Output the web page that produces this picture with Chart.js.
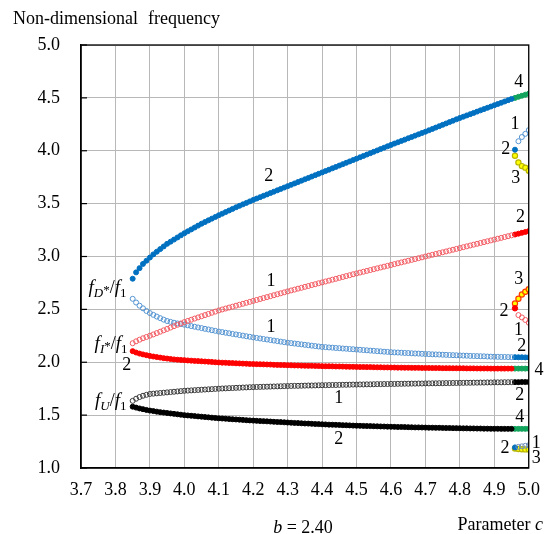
<!DOCTYPE html>
<html><head><meta charset="utf-8">
<script src="https://cdn.jsdelivr.net/npm/chart.js@4/dist/chart.umd.min.js"></script>
<style>html,body{margin:0;padding:0;background:#fff;}canvas{display:block;}</style>
</head><body>
<canvas id="chart" width="551" height="534" style="width:551px;height:534px"></canvas>
<script>
// ---------- data ----------
const xTicks = [3.7,3.8,3.9,4.0,4.1,4.2,4.3,4.4,4.5,4.6,4.7,4.8,4.9,5.0];
const yTicks = [1.0,1.5,2.0,2.5,3.0,3.5,4.0,4.5,5.0];

const cMain = [3.85,3.86,3.87,3.88,3.89,
 3.90,3.91,3.92,3.93,3.94,3.95,3.96,3.97,3.98,3.99,
 4.00,4.01,4.02,4.03,4.04,4.05,4.06,4.07,4.08,4.09,
 4.10,4.11,4.12,4.13,4.14,4.15,4.16,4.17,4.18,4.19,
 4.20,4.21,4.22,4.23,4.24,4.25,4.26,4.27,4.28,4.29,
 4.30,4.31,4.32,4.33,4.34,4.35,4.36,4.37,4.38,4.39,
 4.40,4.41,4.42,4.43,4.44,4.45,4.46,4.47,4.48,4.49,
 4.50,4.51,4.52,4.53,4.54,4.55,4.56,4.57,4.58,4.59,
 4.60,4.61,4.62,4.63,4.64,4.65,4.66,4.67,4.68,4.69,
 4.70,4.71,4.72,4.73,4.74,4.75,4.76,4.77,4.78,4.79,
 4.80,4.81,4.82,4.83,4.84,4.85,4.86,4.87,4.88,4.89,
 4.90,4.91,4.92,4.93,4.94,4.95];
const cEnd = [4.96,4.97,4.98,4.99,5.00];

// f_D*/f_1, mode 2 (filled blue)
const fD2 = [2.79,2.85,2.89,2.93,2.96,
 2.99,3.02,3.045,3.07,3.095,3.12,3.14,3.16,3.18,3.20,
 3.22,3.238,3.256,3.274,3.292,3.31,3.326,3.342,3.358,3.374,
 3.39,3.405,3.42,3.435,3.45,3.465,3.479,3.493,3.507,3.521,
 3.535,3.548,3.561,3.574,3.587,3.60,3.613,3.626,3.639,3.652,
 3.665,3.678,3.691,3.704,3.717,3.73,3.743,3.756,3.769,3.782,
 3.795,3.808,3.821,3.834,3.847,3.86,3.873,3.886,3.899,3.912,
 3.925,3.938,3.951,3.964,3.977,3.99,4.003,4.016,4.029,4.042,
 4.055,4.068,4.08,4.093,4.105,4.118,4.13,4.143,4.155,4.168,
 4.18,4.193,4.206,4.219,4.232,4.245,4.258,4.271,4.284,4.297,
 4.31,4.322,4.334,4.346,4.358,4.37,4.382,4.394,4.406,4.418,
 4.43,4.442,4.454,4.466,4.478,4.49];
const fD2End = [4.50,4.51,4.52,4.53,4.54];          // mode 4 (green)

// f_D*/f_1, mode 1 (open blue)
const fD1 = [2.60,2.565,2.535,2.51,2.485,
 2.465,2.448,2.432,2.417,2.403,2.39,2.382,2.374,2.367,2.361,
 2.355,2.349,2.342,2.336,2.329,2.323,2.316,2.31,2.303,2.297,
 2.29,2.285,2.279,2.274,2.268,2.263,2.257,2.252,2.246,2.241,
 2.235,2.23,2.225,2.22,2.215,2.21,2.205,2.2,2.195,2.19,
 2.185,2.181,2.177,2.173,2.169,2.165,2.161,2.157,2.153,2.149,
 2.145,2.143,2.14,2.138,2.135,2.133,2.13,2.128,2.125,2.123,
 2.12,2.118,2.115,2.113,2.11,2.108,2.105,2.103,2.1,2.098,
 2.095,2.093,2.092,2.09,2.088,2.087,2.085,2.083,2.082,2.08,
 2.078,2.077,2.075,2.074,2.073,2.071,2.07,2.068,2.067,2.066,
 2.064,2.063,2.062,2.06,2.059,2.058,2.057,2.056,2.054,2.053,
 2.052,2.051,2.05,2.05,2.049,2.048];
const fD1End = [2.048,2.047,2.047,2.046,2.046];     // mode 2 (filled blue)

// f_I*/f_1, mode 1 (open red)
const fI1 = [2.18,2.198,2.213,2.227,2.239,
 2.251,2.263,2.276,2.289,2.302,2.315,2.328,2.341,2.354,2.367,
 2.38,2.391,2.402,2.413,2.424,2.435,2.446,2.457,2.468,2.479,
 2.49,2.499,2.508,2.517,2.526,2.535,2.544,2.553,2.562,2.571,
 2.58,2.589,2.598,2.607,2.616,2.625,2.634,2.643,2.652,2.661,
 2.67,2.679,2.687,2.696,2.704,2.713,2.721,2.73,2.738,2.747,
 2.755,2.764,2.772,2.781,2.789,2.798,2.806,2.815,2.823,2.832,
 2.84,2.848,2.856,2.864,2.872,2.88,2.888,2.896,2.904,2.912,
 2.92,2.928,2.936,2.944,2.952,2.96,2.968,2.976,2.984,2.992,
 3.00,3.008,3.016,3.024,3.032,3.04,3.048,3.056,3.064,3.072,
 3.08,3.088,3.096,3.104,3.112,3.12,3.128,3.136,3.144,3.152,
 3.16,3.168,3.176,3.184,3.192,3.20];
const fI1End = [3.208,3.216,3.224,3.232,3.24];      // mode 2 (filled red)

// f_I*/f_1, mode 2 (filled red)
const fI2 = [2.105,2.092,2.082,2.074,2.067,
 2.06,2.054,2.049,2.044,2.039,2.035,2.031,2.027,2.024,2.022,
 2.02,2.017,2.015,2.013,2.011,2.009,2.007,2.005,2.003,2.0,
 1.998,1.996,1.995,1.993,1.992,1.99,1.989,1.987,1.986,1.984,
 1.983,1.982,1.981,1.98,1.979,1.978,1.976,1.975,1.974,1.973,
 1.972,1.971,1.97,1.969,1.968,1.967,1.966,1.966,1.965,1.964,
 1.963,1.962,1.962,1.961,1.96,1.96,1.959,1.958,1.957,1.957,
 1.956,1.955,1.955,1.954,1.954,1.953,1.952,1.952,1.951,1.951,
 1.95,1.95,1.949,1.949,1.948,1.948,1.947,1.947,1.947,1.946,
 1.946,1.946,1.945,1.945,1.945,1.944,1.944,1.944,1.943,1.943,
 1.943,1.943,1.942,1.942,1.942,1.941,1.941,1.941,1.941,1.94,
 1.94,1.94,1.94,1.94,1.94,1.94];
const fI2End = [1.94,1.94,1.94,1.94,1.94];          // mode 4 (green)

// f_U/f_1, mode 1 (open black)
const fU1 = [1.635,1.655,1.671,1.683,1.692,
 1.70,1.703,1.706,1.709,1.712,1.715,1.718,1.721,1.724,1.727,
 1.73,1.732,1.734,1.736,1.738,1.74,1.742,1.744,1.746,1.748,
 1.75,1.752,1.753,1.755,1.756,1.758,1.759,1.761,1.762,1.764,
 1.765,1.766,1.767,1.768,1.769,1.77,1.771,1.772,1.773,1.774,
 1.775,1.776,1.777,1.777,1.778,1.779,1.78,1.78,1.781,1.782,
 1.783,1.783,1.784,1.785,1.785,1.786,1.787,1.787,1.788,1.789,
 1.789,1.79,1.79,1.791,1.791,1.792,1.793,1.793,1.794,1.794,
 1.795,1.795,1.796,1.796,1.797,1.797,1.798,1.798,1.799,1.799,
 1.80,1.80,1.801,1.801,1.802,1.802,1.803,1.803,1.804,1.804,
 1.805,1.805,1.806,1.806,1.807,1.807,1.808,1.808,1.809,1.809,
 1.81,1.81,1.81,1.811,1.811,1.812];
const fU1End = [1.812,1.812,1.813,1.813,1.813];     // mode 2 (filled black)

// f_U/f_1, mode 2 (filled black)
const fU2 = [1.58,1.571,1.563,1.556,1.549,
 1.543,1.538,1.533,1.528,1.524,1.52,1.516,1.512,1.508,1.504,
 1.50,1.497,1.494,1.491,1.488,1.485,1.482,1.479,1.476,1.473,
 1.47,1.468,1.466,1.463,1.461,1.459,1.457,1.455,1.452,1.45,
 1.448,1.446,1.444,1.443,1.441,1.439,1.437,1.435,1.434,1.432,
 1.43,1.428,1.426,1.425,1.423,1.421,1.42,1.418,1.416,1.415,
 1.413,1.412,1.41,1.409,1.408,1.407,1.405,1.404,1.403,1.401,
 1.40,1.399,1.398,1.397,1.396,1.395,1.394,1.393,1.392,1.391,
 1.39,1.389,1.388,1.388,1.387,1.386,1.385,1.384,1.384,1.383,
 1.382,1.381,1.381,1.38,1.38,1.379,1.378,1.378,1.377,1.377,
 1.376,1.375,1.375,1.374,1.374,1.373,1.373,1.372,1.372,1.371,
 1.371,1.371,1.37,1.37,1.37,1.37];
const fU2End = [1.37,1.37,1.37,1.37,1.37];          // mode 4 (green)

// small branches near c = 5.0
const cTail = [4.97,4.98,4.99,5.00];
const cOne = [4.96];
const topMode1 = [4.09,4.13,4.16,4.195];
const topMode2 = [4.01];
const topMode3 = [3.953,3.89,3.855,3.84,3.81];
const midMode1 = [2.446,2.424,2.40,2.374];
const midMode2 = [2.51];
const midMode3 = [2.555,2.60,2.64,2.667,2.69];
const botMode1 = [1.20,1.205,1.21,1.215];
const botMode2 = [1.195];
const botMode3 = [1.185,1.18,1.178,1.176,1.175];

// mode number labels: [text, c, value]
const modeLabels = [
 ['2',4.245,3.76],['1',4.252,2.77],['1',4.252,2.33],['2',3.833,1.975],
 ['1',4.448,1.658],['2',4.448,1.27],
 ['4',4.971,4.65],['1',4.96,4.25],['2',4.933,4.01],['3',4.962,3.74],['2',4.976,3.375],
 ['3',4.971,2.78],['2',4.928,2.485],['1',4.97,2.30],['2',4.98,2.15],['4',5.03,1.926],
 ['2',4.974,1.69],['4',4.974,1.478],['2',4.931,1.185],['1',5.022,1.232],['3',5.022,1.09]
];
// ratio labels: [main, subscript, star, c (right edge), value]
const ratioLabels = [['f','D','*',3.832,2.71],['f','I','*',3.835,2.18],['f','U','',3.832,1.64]];

// ---------- chart ----------
const serif = '"Liberation Serif","Times New Roman",serif';
const pts = (cs, vs) => cs.map((c,i)=>({x:c, y:vs[i]}));
const BLUE='#0070C0', LBLUE='#5594D2', RED='#FF0000', PINK='#F25A62', BLACK='#000000', GREY='#3A3A3A', GREEN='#12A35C', YEL='#FFFF00';
function filled(data,col,r){return {data, pointRadius:r||2.5, pointBorderWidth:1, pointBackgroundColor:col, pointBorderColor:col, showLine:false};}
function open(data,col){return {data, pointRadius:2.5, pointBorderWidth:1, pointBackgroundColor:'rgba(0,0,0,0)', pointBorderColor:col, showLine:false};}
function ring(data,fill,edge){return {data, pointRadius:2.6, pointBorderWidth:1.2, pointBackgroundColor:fill, pointBorderColor:edge, showLine:false};}

const datasets = [
 open(pts(cMain,fU1),GREY),
 filled(pts(cMain,fU2),BLACK),
 open(pts(cMain,fI1),PINK),
 filled(pts(cMain,fI2),RED),
 open(pts(cMain,fD1),LBLUE),
 filled(pts(cMain,fD2),BLUE),
 filled(pts(cEnd,fD2End),GREEN),
 filled(pts(cEnd,fD1End),BLUE),
 filled(pts(cEnd,fI1End),RED),
 filled(pts(cEnd,fI2End),GREEN),
 filled(pts(cEnd,fU1End),BLACK),
 filled(pts(cEnd,fU2End),GREEN),
 open(pts(cTail,topMode1),LBLUE),
 filled(pts(cOne,topMode2),BLUE),
 ring(pts(cEnd,topMode3),YEL,'#B8B400'),
 open(pts(cTail,midMode1),PINK),
 filled(pts(cOne,midMode2),RED,2.7),
 ring(pts(cEnd,midMode3),YEL,'#FF3A00'),
 open(pts(cTail,botMode1),'#6F8FB8'),
 filled(pts(cOne,botMode2),BLUE),
 ring(pts(cEnd,botMode3),YEL,'#B8B400')
];

const overlay = {
 id:'overlay',
 afterDatasetsDraw(chart){
  const ctx = chart.ctx, a = chart.chartArea, xs = chart.scales.x, ys = chart.scales.y;
  ctx.save();
  ctx.strokeStyle='#000'; ctx.lineWidth=1.3;
  ctx.strokeRect(a.left, a.top, a.right-a.left, a.bottom-a.top);
  ctx.lineWidth=1.2;
  yTicks.forEach(v=>{const y=ys.getPixelForValue(v); ctx.beginPath(); ctx.moveTo(a.left,y); ctx.lineTo(a.left+6,y); ctx.stroke();});
  ctx.fillStyle='#000'; ctx.textAlign='center'; ctx.textBaseline='middle';
  ctx.font='18px '+serif;
  modeLabels.forEach(([t,c,v])=>ctx.fillText(t, xs.getPixelForValue(c), ys.getPixelForValue(v)));
  ctx.textAlign='left'; ctx.textBaseline='alphabetic';
  ratioLabels.forEach(([f,sub,star,c,v])=>{
    const parts=[
      {t:f,font:'italic 19px '+serif,dy:0},
      {t:sub,font:'italic 13px '+serif,dy:4},
      {t:star,font:'13px '+serif,dy:1},
      {t:'/',font:'18px '+serif,dy:0},
      {t:f,font:'italic 19px '+serif,dy:0},
      {t:'1',font:'13px '+serif,dy:4}];
    let w=0; parts.forEach(p=>{ctx.font=p.font; p.w=ctx.measureText(p.t).width; w+=p.w;});
    let x=xs.getPixelForValue(c)-w; const base=ys.getPixelForValue(v)+6;
    parts.forEach(p=>{ctx.font=p.font; ctx.fillText(p.t,x,base+p.dy); x+=p.w;});
  });
  ctx.font='18px '+serif; ctx.textAlign='left'; ctx.textBaseline='alphabetic';
  ctx.fillText('Non-dimensional',13,24);
  ctx.fillText('frequency',148,24);
  const t1='Parameter ', t2='c';
  ctx.font='18px '+serif; const w1=ctx.measureText(t1).width;
  ctx.font='italic 18px '+serif; const w2=ctx.measureText(t2).width;
  let x0=543-w1-w2;
  ctx.font='18px '+serif; ctx.fillText(t1,x0,530);
  ctx.font='italic 18px '+serif; ctx.fillText(t2,x0+w1,530);
  const b1='b', b2=' = 2.40';
  ctx.font='italic 18px '+serif; const bw1=ctx.measureText(b1).width;
  ctx.font='18px '+serif; const bw2=ctx.measureText(b2).width;
  let bx=303-(bw1+bw2)/2;
  ctx.font='italic 18px '+serif; ctx.fillText(b1,bx,533);
  ctx.font='18px '+serif; ctx.fillText(b2,bx+bw1,533);
  ctx.restore();
 }
};

new Chart(document.getElementById('chart'),{
 type:'scatter',
 data:{datasets},
 options:{
  responsive:false, animation:false, devicePixelRatio:1,
  layout:{padding:{left:0,right:17,top:45,bottom:0}},
  plugins:{legend:{display:false},tooltip:{enabled:false},title:{display:false}},
  scales:{
   x:{type:'linear',min:3.7,max:5.0,
      afterBuildTicks:s=>{s.ticks=xTicks.map(v=>({value:v}));},
      afterFit:s=>{s.height=66;},
      grid:{color:'#B8B8B8',lineWidth:1,drawTicks:false},
      border:{color:'#000',width:1.3},
      ticks:{padding:11,color:'#000',font:{family:serif,size:18},maxRotation:0,autoSkip:false,callback:v=>Number(v).toFixed(1)}},
   y:{type:'linear',min:1.0,max:5.0,
      afterBuildTicks:s=>{s.ticks=yTicks.map(v=>({value:v}));},
      afterFit:s=>{s.width=81;},
      grid:{color:'#B8B8B8',lineWidth:1,drawTicks:false},
      border:{color:'#000',width:1.3},
      ticks:{padding:21,color:'#000',font:{family:serif,size:18},callback:v=>Number(v).toFixed(1)}}
  }
 },
 plugins:[overlay]
});
</script>
</body></html>
